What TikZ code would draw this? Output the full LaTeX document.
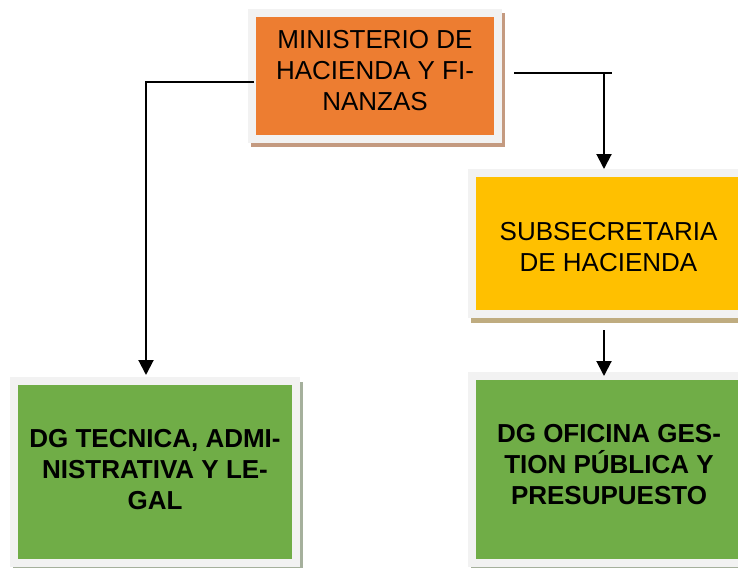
\documentclass[tikz,border=0pt]{standalone}
\usepackage{fontspec}
\setmainfont{Liberation Sans}
\usetikzlibrary{arrows.meta,backgrounds}
\definecolor{frameg}{HTML}{F2F2F2}
\definecolor{orangeb}{HTML}{ED7D31}
\definecolor{yellowb}{HTML}{FFC000}
\definecolor{greenb}{HTML}{70AD47}
\definecolor{shadowo}{HTML}{C49A80}
\definecolor{shadowy}{HTML}{BFAC80}
\definecolor{shadowg}{HTML}{A5B09C}
\tikzset{
  box/.style={draw=frameg, line width=8pt, rectangle, inner sep=0pt},
  txt/.style={align=center, inner sep=0pt, font=\fontsize{26}{31}\selectfont},
  btxt/.style={txt, font=\fontsize{26}{31}\selectfont\bfseries},
  conn/.style={line width=2pt, -{Triangle[width=15pt,length=15pt]}},
  plainline/.style={line width=2pt}
}
\begin{document}
\begin{tikzpicture}[x=1pt,y=-1pt]
\useasboundingbox (0,0) rectangle (738,567);
% boxes
\node[box, fill=orangeb, minimum width=246pt, minimum height=126pt] (mhf) at (375,76) {};
\node[box, fill=yellowb, minimum width=273pt, minimum height=141pt] (sub) at (608.5,243.5) {};
\node[box, fill=greenb, minimum width=282pt, minimum height=182pt] (dgl) at (155,472) {};
\node[box, fill=greenb, minimum width=273pt, minimum height=187pt] (dgr) at (608.5,469.5) {};
% shadows
\begin{scope}[on background layer]
\fill[shadowo] ([shift={(3pt,-4pt)}]mhf.south west) rectangle ([shift={(3pt,-4pt)}]mhf.north east);
\fill[shadowy] ([shift={(3pt,-5pt)}]sub.south west) rectangle ([shift={(3pt,-5pt)}]sub.north east);
\fill[shadowg] ([shift={(3pt,-5pt)}]dgl.south west) rectangle ([shift={(3pt,-5pt)}]dgl.north east);
\fill[shadowg] ([shift={(3pt,-5pt)}]dgr.south west) rectangle ([shift={(3pt,-5pt)}]dgr.north east);
\end{scope}
% texts
\node[txt] (mhft) at (375,71) {MINISTERIO DE\\HACIENDA Y FI-\\NANZAS};
\node[txt] (subt) at (608.5,247) {SUBSECRETARIA\\DE HACIENDA};
\node[btxt] (dglt) at (155,470) {DG TECNICA, ADMI-\\NISTRATIVA Y LE-\\GAL};
\node[btxt] (dgrt) at (609,465) {DG OFICINA GES-\\TION PÚBLICA Y\\PRESUPUESTO};
% connectors
\coordinate (aL) at (146,375);
\coordinate (aR) at (604,169);
\coordinate (rC) at (604,73);
\coordinate (rT) at (612,73);
\coordinate (bR) at (604,330);
\coordinate (cR) at (604,376);
\draw[conn] ([xshift=6pt,yshift=-6pt]mhf.west) -| (aL);
\draw[conn] ([xshift=12pt,yshift=3pt]mhf.east) -| (aR);
\draw[plainline] (rC) -- (rT);
\draw[conn] (bR) -- (cR);
\end{tikzpicture}
\end{document}
